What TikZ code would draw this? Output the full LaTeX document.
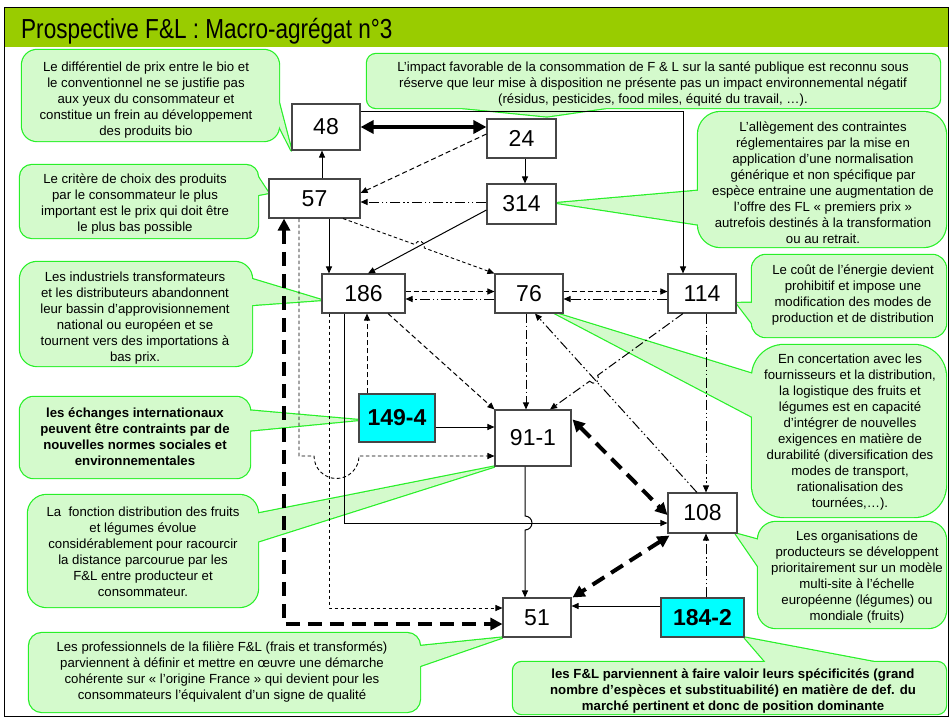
\documentclass[tikz,border=0pt]{standalone}
\usepackage{fontspec}
\setmainfont{Liberation Sans}
\newfontfamily\titlefont[FakeStretch=0.82]{Liberation Sans}
\usetikzlibrary{arrows.meta,calc}

\pgfdeclarelayer{canvas}
\pgfdeclarelayer{bubbleedge}
\pgfdeclarelayer{bubblefill}
\pgfsetlayers{canvas,bubbleedge,bubblefill,main}

\definecolor{titlegreen}{RGB}{153,204,0}
\definecolor{calloutrim}{RGB}{40,240,40}
\definecolor{calloutbg}{RGB}{212,250,204}
\definecolor{boxrule}{RGB}{70,70,70}
\definecolor{keycyan}{RGB}{0,255,255}

% rounded speech bubble: #1 corner radius (pt), #2/#3 opposite corners,
% #4 first base point, #5 pointer tip, #6 second base point
\newcommand\speechbubble[6]{%
  \begin{pgfonlayer}{bubbleedge}
    \draw[callout rim, rounded corners=#1pt] #2 rectangle #3;
    \draw[callout rim] #4 -- #5 -- #6 -- cycle;
  \end{pgfonlayer}
  \begin{pgfonlayer}{bubblefill}
    \fill[calloutbg, rounded corners=#1pt] #2 rectangle #3;
    \fill[calloutbg] #4 -- #5 -- #6 -- cycle;
  \end{pgfonlayer}}

\tikzset{
  callout rim/.style={draw=calloutrim, line width=2.4pt, line join=round},
  numbox/.style={draw=boxrule, line width=1.1pt, fill=white, inner sep=0pt,
    font=\fontsize{23}{23}\selectfont},
  keybox/.style={numbox, fill=keycyan, font=\fontsize{23}{23}\selectfont\bfseries},
  note/.style={align=center, inner sep=0pt, font=\fontsize{13.2}{16}\selectfont},
  boldnote/.style={align=center, inner sep=0pt, font=\fontsize{13.2}{16}\selectfont\bfseries},
  onehead/.style={-{Triangle[length=7pt,width=6pt]}},
  conn/.style={line width=1pt, draw=black},
  conndash/.style={conn, dash pattern=on 5pt off 3pt},
  connfine/.style={conn, line width=0.9pt, dash pattern=on 3.5pt off 2.5pt},
  conndd/.style={conn, dash pattern=on 9pt off 3pt on 1.5pt off 3pt},
  connddd/.style={conn, dash pattern=on 10pt off 3pt on 1.5pt off 2.5pt on 1.5pt off 3pt},
  connheavy/.style={line width=3.6pt, draw=black,
    {Triangle[length=13pt,width=13pt]}-{Triangle[length=13pt,width=13pt]}},
  connheavydash/.style={line width=4pt, draw=black, dash pattern=on 14pt off 8pt,
    {Triangle[length=12pt,width=12pt]}-{Triangle[length=12pt,width=12pt]}},
}

\begin{document}
\begin{tikzpicture}[x=1pt, y=-1pt]
\useasboundingbox (0,0) rectangle (952,720);
\begin{pgfonlayer}{canvas}
  \fill[white] (0,0) rectangle (952,720);
\end{pgfonlayer}

% title bar and frame
\fill[titlegreen] (4,7) rectangle (948,47);
\node[anchor=base west, inner sep=0pt, font=\titlefont\fontsize{27.5}{27.5}\selectfont] (title) at (21,38)
  {Prospective F\&L : Macro-agrégat n°3};
\draw[line width=1pt] (4,7) rectangle (948,716);

% numbered boxes
\node[numbox, minimum width=68pt, minimum height=46pt] (n48)  at (326,127)   {48};
\node[numbox, minimum width=69pt, minimum height=39pt] (n24)  at (521.5,138.5) {24};
\node[numbox, minimum width=91pt, minimum height=39pt] (n57)  at (314.5,198.5) {57};
\node[numbox, minimum width=69pt, minimum height=40pt] (n314) at (521.5,204) {314};
\node[numbox, minimum width=83pt, minimum height=39pt] (n186) at (363.5,293.5) {186};
\node[numbox, minimum width=68pt, minimum height=39pt] (n76)  at (529,293.5) {76};
\node[numbox, minimum width=68pt, minimum height=39pt] (n114) at (702,293.5) {114};
\node[keybox, minimum width=76pt, minimum height=48pt] (n1494) at (397,418) {149-4};
\node[numbox, minimum width=76pt, minimum height=56pt] (n911) at (533,438) {91-1};
\node[numbox, minimum width=69pt, minimum height=40pt] (n108) at (702.5,513) {108};
\node[numbox, minimum width=68pt, minimum height=39pt] (n51)  at (537,617.5) {51};
\node[keybox, minimum width=83pt, minimum height=39pt] (n1842) at (702.5,617.5) {184-2};

% connectors
\draw[connheavy] (n48.east) -- (n48.east -| n24.west);
\draw[conn, onehead] ($(n48.east)+(0,-16)$) -| ($(n114.north)+(-19,0)$);
\draw[conn, onehead] ($(n24.south)+(3.5,0)$) -- ($(n314.north)+(3.5,0)$);
\draw[conndash, onehead] ($(n24.west)+(0,-4.5)$) -- ($(n57.east)+(0,-5.5)$);
\draw[connddd, onehead] ($(n314.west)+(0,-2)$) -- ($(n57.east)+(0,3.5)$);
\draw[conn, onehead] ($(n57.north)+(7.5,0)$) -- ($(n48.south)+(-4,0)$);
\coordinate (hopA) at (414.9,244.5);
\draw[connfine, onehead] ($(n57.south)+(28.5,0)$) -- (hopA)
  arc[start angle=200.22, end angle=380.22, radius=5] -- (n76.north west);
\draw[conn, onehead] ($(n314.west)+(0,6)$) -- ($(n186.north)+(4.5,0)$);
\draw[conn, onehead] ($(n57.south)+(14.5,0)$) -- ($(n186.north)+(-34.5,0)$);
\draw[conndash, onehead] ($(n186.east)+(0,-2)$) -- ($(n76.west)+(0,-2)$);
\draw[connddd, onehead] ($(n76.west)+(0,5.5)$) -- ($(n186.east)+(0,5.5)$);
\draw[conndash, onehead] ($(n76.east)+(0,-2)$) -- ($(n114.west)+(0,-2)$);
\draw[connddd, onehead] ($(n114.west)+(0,5.5)$) -- ($(n76.east)+(0,5.5)$);
\draw[conndash, onehead] ($(n186.south)+(24.5,0)$) -- (n911.north west);
\draw[conndd, onehead] ($(n76.south)+(-3,0)$) -- ($(n911.north)+(-7,0)$);
\draw[connddd, onehead] ($(n108.north)+(-5.5,0)$) -- ($(n76.south)+(6,0)$);
\coordinate (hopB) at (597.7,375.3);
\draw[conndd, onehead] ($(n114.south)+(-19,0)$) -- (hopB)
  arc[start angle=323.9, end angle=503.9, radius=5] -- ($(n911.north)+(17,0)$);
\draw[conndash, onehead] ($(n1494.north)+(-30,0)$) -- ($(n186.south)+(3.5,0)$);
\draw[conn, onehead] ($(n1494.east)+(0,9)$) -- ($(n911.west)+(0,-11)$);
\draw[connheavydash] ($(n911.north east)+(1,10)$) -- ($(n108.west)+(0,2)$);
\draw[connheavydash] ($(n108.south west)+(2,2)$) -- ($(n51.north east)+(1,0)$);
\coordinate (hopC) at (525,516);
\draw[conn, onehead] ($(n911.south)+(-8,0)$) -- (hopC)
  arc[start angle=270, end angle=450, radius=7] -- ($(n51.north)+(-12,0)$);
\draw[conn, onehead] ($(n186.south)+(-19.5,0)$) |- ($(n108.west)+(0,10)$);
\draw[connddd, onehead] ($(n1842.north)+(3.5,0)$) -- ($(n108.south)+(3.5,0)$);
\draw[connddd, onehead] ($(n114.south)+(4,0)$) -- ($(n108.north)+(3.5,0)$);
\draw[conn, onehead] ($(n1842.west)+(0,-11.5)$) -- ($(n51.east)+(0,-11.5)$);
\coordinate (hopD) at (314,456);
\draw[connfine, onehead] ($(n57.south)+(-15.5,0)$) |- (hopD)
  arc[start angle=180, end angle=0, radius=22.5] -- ($(n911.west)+(0,18)$);
\draw[connfine, onehead] ($(n186.south)+(-34.5,0)$) |- ($(n51.west)+(0,-9.5)$);
\draw[connheavydash] ($(n57.south)+(-30.5,0)$) |- ($(n51.west)+(0,6.5)$);

% callouts
\node[note] (c1) at (146,100) {Le différentiel de prix entre le bio et\\le conventionnel ne se justifie pas\\aux yeux du consommateur et\\constitue un frein au développement\\des produits bio};
\speechbubble{15}{(22,50)}{(279,141)}{(279,103)}{(n48.south west)}{(279,126)}

\node[note] (c2) at (135,204.5) {Le critère de choix des produits\\par le consommateur le plus\\important est le prix qui doit être\\le plus bas possible};
\speechbubble{12}{(20,165)}{(258,238)}{(258,177)}{($(n57.west)+(0,-5.5)$)}{(258,195)}

\node[note] (c3) at (653,84) {L’impact favorable de la consommation de F \& L sur la santé publique est reconnu sous\\réserve que leur mise à disposition ne présente pas un impact environnemental négatif\\(résidus, pesticides, food miles, équité du travail, …).};
\speechbubble{9}{(367,54)}{(940,108)}{(462.5,108)}{($(n24.north)+(25.5,-2)$)}{(605.75,108)}

\node[note] (c4) at (823,182.5) {L’allègement des contraintes\\réglementaires par la mise en\\application d’une normalisation\\générique et non spécifique par\\espèce entraine une augmentation de\\l’offre des FL «~premiers prix~»\\autrefois destinés à la transformation\\ou au retrait.};
\speechbubble{22.5}{(698,112)}{(946,247)}{(698,190.75)}{($(n314.east)+(1,-1)$)}{(698,224.5)}

\node[note] (c5) at (853,295) {Le coût de l'énergie devient\\prohibitif et impose une\\modification des modes de\\production et de distribution};
\speechbubble{13.7}{(752,255)}{(946,337)}{(752,302.8)}{($(n114.east)+(0,9.5)$)}{(752,323.3)}

\node[note] (c6) at (135,318) {Les industriels transformateurs\\et les distributeurs abandonnent\\leur bassin d'approvisionnement\\national ou européen et se\\tournent vers des importations à\\bas prix.};
\speechbubble{17}{(20,262)}{(252,366)}{(252,279)}{($(n186.west)+(0,6.5)$)}{(252,305)}

\node[note] (c7) at (850,432) {En concertation avec les\\fournisseurs et la distribution,\\la logistique des fruits et\\légumes est en capacité\\d'intégrer de nouvelles\\exigences en matière de\\durabilité (diversification des\\modes de transport,\\rationalisation des\\tournées,…).};
\speechbubble{32}{(752,345)}{(946,517)}{(752,373.7)}{($(n76.south east)+(-10,-1)$)}{(752,416.7)}

\node[boldnote] (c8) at (135,437) {les échanges internationaux\\peuvent être contraints par de\\nouvelles normes sociales et\\environnementales};
\speechbubble{13.5}{(20,397)}{(250,478)}{(250,410.5)}{($(n1494.west)+(0,2)$)}{(250,430.5)}

\node[note] (c9) at (143,551.5) {La\ \ fonction distribution des fruits\\et légumes évolue\\considérablement pour racourcir\\la distance parcourue par les\\F\&L entre producteur et\\consommateur.};
\speechbubble{18.5}{(28,495)}{(258,607)}{(258,513.5)}{(n911.south west)}{(258,541.5)}

\node[note] (c10) at (857,577) {Les organisations de\\producteurs se développent\\prioritairement sur un modèle\\multi-site à l'échelle\\européenne (légumes) ou\\mondiale (fruits)};
\speechbubble{17.7}{(758,522)}{(946,628)}{(758,539.7)}{($(n108.south east)+(-2,0)$)}{(758,566.2)}

\node[note] (c11) at (222,672) {Les professionnels de la filière F\&L (frais et transformés)\\parviennent à définir et mettre en œuvre une démarche\\cohérente sur «~l’origine France~» qui devient pour les\\consommateurs l’équivalent d’un signe de qualité};
\speechbubble{13}{(29,633)}{(420,712)}{(420,646)}{(n51.south west)}{(420,666)}

\node[boldnote] (c12) at (733,691) {les F\&L parviennent à faire valoir leurs spécificités (grand\\nombre d'espèces et substituabilité) en matière de def. du\\marché pertinent et donc de position dominante};
\speechbubble{8.7}{(513,662)}{(946,714)}{(765.6,662)}{(n1842.south east)}{(873.8,662)}

\end{tikzpicture}
\end{document}
